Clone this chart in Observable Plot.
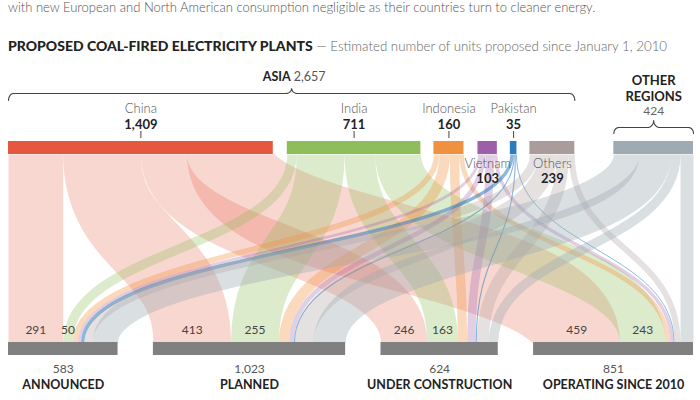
<!DOCTYPE html>
<html><head><meta charset="utf-8">
<script src="https://cdn.jsdelivr.net/npm/d3@7"></script>
<script src="https://cdn.jsdelivr.net/npm/@observablehq/plot@0.6"></script>
<style>
body{margin:0;background:#fff;font-family:Lato,"Noto Sans",sans-serif;}
#wrap{position:relative;width:700px;height:400px;overflow:hidden;}
#intro{position:absolute;left:8px;top:-1px;font-size:13px;color:#555;white-space:nowrap;font-weight:300;}
#title{position:absolute;left:8px;top:37px;font-size:14px;color:#222;white-space:nowrap;}
#title b{font-weight:900;}
#title span{color:#666;font-weight:300;font-size:13.3px;}
#chart{position:absolute;left:0;top:60px;}
</style></head><body>
<div id="wrap">
<div id="intro">with new European and North American consumption negligible as their countries turn to cleaner energy.</div>
<div id="title"><b>PROPOSED COAL-FIRED ELECTRICITY PLANTS</b> <span>— Estimated number of units proposed since January 1, 2010</span></div>
<div id="chart"></div>
</div>
<script>
// ---- data ----
const regions = ["China", "India", "Indonesia", "Vietnam", "Pakistan", "Others", "Other regions"];
const regionTotals = [1409, 711, 160, 103, 35, 239, 424];
const asiaTotal = 2657;
const stages = ["ANNOUNCED", "PLANNED", "UNDER CONSTRUCTION", "OPERATING SINCE 2010"];
const stageTotals = [583, 1023, 624, 851];
// units per region for each stage (same order as regions)
const announced = [291, 50, 30, 15, 18, 44, 135];
const planned = [413, 255, 55, 25, 6, 99, 170];
const underConstruction = [246, 163, 50, 45, 6, 64, 50];
const operating = [459, 243, 25, 18, 5, 32, 69];

// ---- styles ----
const regionColors = ["#e5573f", "#8ebd5b", "#f0913f", "#9d60a8", "#2b7bc0", "#a99c9a", "#9eabb3"];
const ribbonOpacity = [0.24, 0.3, 0.35, 0.3, 0.55, 0.3, 0.38];
const FONT = "Lato, 'Noto Sans', sans-serif";

// ---- layout ----
const flows = [announced, planned, underConstruction, operating];
const topGapPx = [14, 13, 14, 13, 13, 39];
const pxW = 685;
const sumV = d3.sum(regionTotals);
const W = sumV / (1 - d3.sum(topGapPx) / pxW);
const u = W / pxW; // units per pixel
const regionStart = [];
{ let x = 0; regionTotals.forEach((v, i) => { regionStart.push(x); x += v + (i < topGapPx.length ? topGapPx[i] * u : 0); }); }
const stageGap = (W - d3.sum(stageTotals)) / 3;
const stageStart = [];
{ let x = 0; stageTotals.forEach(v => { stageStart.push(x); x += v + stageGap; }); }

const yTopBar = [81, 94], yBotBar = [282, 295];

// links
const links = [];
regions.forEach((r, ri) => {
  stages.forEach((s, si) => {
    const v = flows[si][ri];
    const a = regionStart[ri] + d3.sum(flows.slice(0, si), f => f[ri]);
    const b = stageStart[si] + d3.sum(flows[si].slice(0, ri));
    links.push({ri, si, v, xa: a + v / 2, xb: b + v / 2, color: regionColors[ri], op: ribbonOpacity[ri]});
  });
});

const regionData = regions.map((r, i) => ({
  name: r, v: regionTotals[i], x1: regionStart[i], x2: regionStart[i] + regionTotals[i],
  cx: regionStart[i] + regionTotals[i] / 2, color: regionColors[i]
}));
const stageData = stages.map((s, i) => ({
  name: s, v: stageTotals[i], x1: stageStart[i], x2: stageStart[i] + stageTotals[i],
  cx: stageStart[i] + stageTotals[i] / 2
}));
const fmt = d3.format(",");
const aboveLabels = regionData.filter(d => ["China", "India", "Indonesia", "Pakistan"].includes(d.name));
const belowLabels = regionData.filter(d => ["Vietnam", "Others"].includes(d.name));
const other = regionData[6];
const flowLabels = links.filter(d => d.ri < 2);

// braces
function brace(id, x0, x1, xc, yLine, yEnd, yTip) {
  const pts = [];
  const rx = 5 * u, tw = 6 * u, n = 8;
  for (let i = 0; i <= n; i++) { const th = i / n * Math.PI / 2; pts.push([x0 + rx - rx * Math.cos(th), yEnd - (yEnd - yLine) * Math.sin(th)]); }
  for (let i = 0; i <= n; i++) { const th = i / n * Math.PI / 2; pts.push([xc - tw + tw * Math.sin(th), yTip + (yLine - yTip) * Math.cos(th)]); }
  for (let i = n; i >= 0; i--) { const th = i / n * Math.PI / 2; pts.push([xc + tw - tw * Math.sin(th), yTip + (yLine - yTip) * Math.cos(th)]); }
  for (let i = n; i >= 0; i--) { const th = i / n * Math.PI / 2; pts.push([x1 - rx + rx * Math.cos(th), yEnd - (yEnd - yLine) * Math.sin(th)]); }
  return pts.map(p => ({id, x: p[0], y: p[1]}));
}
const asiaX0 = regionStart[0], asiaX1 = regionStart[5] + regionTotals[5];
const asiaC = (asiaX0 + asiaX1) / 2;
const braceData = [
  ...brace("asia", asiaX0, asiaX1, asiaC, 33, 40, 28),
  ...brace("other", other.x1, other.x2, other.cx, 67, 73, 60)
];

const chart = Plot.plot({
  width: 700, height: 340,
  margin: 0,
  style: {fontFamily: FONT, background: "transparent"},
  x: {domain: [0, W], range: [8, 693], axis: null},
  y: {domain: [0, 340], range: [0, 340], axis: null},
  color: {type: "identity"},
  marks: [
    Plot.link(links, {x1: "xa", y1: yTopBar[1], x2: "xb", y2: yBotBar[0], curve: "bump-y",
      stroke: "color", strokeOpacity: "op", strokeWidth: d => d.v / u, strokeLinecap: "butt"}),
    Plot.rect(regionData, {x1: "x1", x2: "x2", y1: yTopBar[0], y2: yTopBar[1], fill: "color"}),
    Plot.rect(stageData, {x1: "x1", x2: "x2", y1: yBotBar[0], y2: yBotBar[1], fill: "#808080"}),
    Plot.ruleX(aboveLabels, {x: "cx", y1: 71, y2: 78, stroke: "#444", strokeWidth: 1}),
    Plot.text(aboveLabels, {x: "cx", y: 48, text: "name", fontSize: 13, fill: "#555", fontWeight: 300}),
    Plot.text(aboveLabels, {x: "cx", y: 64, text: d => fmt(d.v), fontSize: 13, fill: "#222", fontWeight: "bold"}),
    Plot.text(belowLabels, {x: "cx", y: 103, text: "name", fontSize: 13, fill: "#555", fontWeight: 300}),
    Plot.text(belowLabels, {x: "cx", y: 118, text: d => fmt(d.v), fontSize: 13, fill: "#222", fontWeight: "bold"}),
    Plot.text([other], {x: "cx", y: 20, text: () => "OTHER", fontSize: 13, fill: "#222", fontWeight: "bold"}),
    Plot.text([other], {x: "cx", y: 36, text: () => "REGIONS", fontSize: 13, fill: "#222", fontWeight: "bold"}),
    Plot.text([other], {x: "cx", y: 51, text: d => fmt(d.v), fontSize: 12, fill: "#666"}),
    Plot.text([asiaTotal], {x: asiaC, y: 16, dx: -1, text: () => "ASIA", textAnchor: "end", fontSize: 12.5, fill: "#222", fontWeight: "bold"}),
    Plot.text([asiaTotal], {x: asiaC, y: 16, dx: 2, text: d => fmt(d), textAnchor: "start", fontSize: 12.5, fill: "#555"}),
    Plot.line(braceData, {x: "x", y: "y", z: "id", stroke: "#444", strokeWidth: 1.1, curve: "linear"}),
    Plot.text(flowLabels, {x: "xb", y: 270, text: d => fmt(d.v), fontSize: 12, fill: "#444"}),
    Plot.text(stageData, {x: "cx", y: 309, text: d => fmt(d.v), fontSize: 12, fill: "#555"}),
    Plot.text(stageData, {x: "cx", y: 324, text: "name", fontSize: 12.5, fill: "#222", fontWeight: "bold"})
  ]
});
document.getElementById("chart").appendChild(chart);
</script>
</body></html>
